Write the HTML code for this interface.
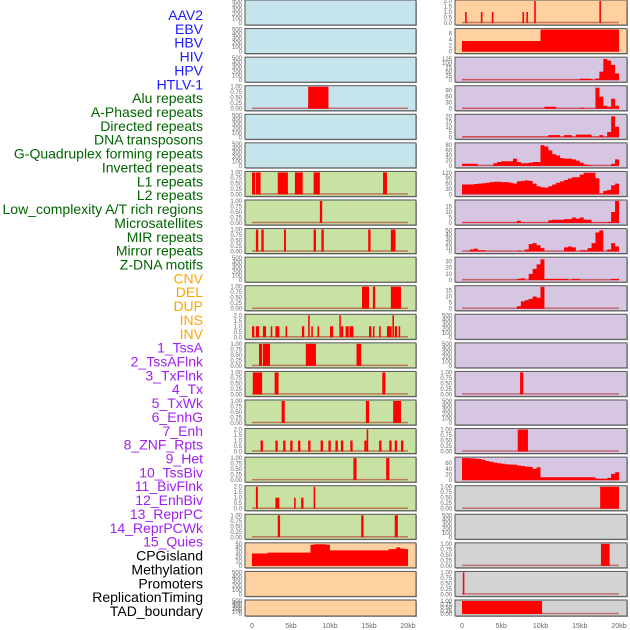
<!DOCTYPE html>
<html><head><meta charset="utf-8"><style>
html,body{margin:0;padding:0;background:#fff;}
svg{display:block;font-family:"Liberation Sans",sans-serif;}
</style></head><body>
<svg id="chart" width="630" height="630" viewBox="0 0 630 630"></svg>
<script>
// ---------- data ----------
const trackLabels = ["AAV2","EBV","HBV","HIV","HPV","HTLV-1","Alu repeats","A-Phased repeats","Directed repeats","DNA transposons","G-Quadruplex forming repeats","Inverted repeats","L1 repeats","L2 repeats","Low_complexity A/T rich regions","Microsatellites","MIR repeats","Mirror repeats","Z-DNA motifs","CNV","DEL","DUP","INS","INV","1_TssA","2_TssAFlnk","3_TxFlnk","4_Tx","5_TxWk","6_EnhG","7_Enh","8_ZNF_Rpts","9_Het","10_TssBiv","11_BivFlnk","12_EnhBiv","13_ReprPC","14_ReprPCWk","15_Quies","CPGisland","Methylation","Promoters","ReplicationTiming","TAD_boundary"];
const labelColors = ["#1a1aff","#1a1aff","#1a1aff","#1a1aff","#1a1aff","#1a1aff","#006400","#006400","#006400","#006400","#006400","#006400","#006400","#006400","#006400","#006400","#006400","#006400","#006400","#ffa500","#ffa500","#ffa500","#ffa500","#ffa500","#a020f0","#a020f0","#a020f0","#a020f0","#a020f0","#a020f0","#a020f0","#a020f0","#a020f0","#a020f0","#a020f0","#a020f0","#a020f0","#a020f0","#a020f0","#000","#000","#000","#000","#000"];
const xTicks = [0,5,10,15,20];
const xTickLabels = ["0","5kb","10kb","15kb","20kb"];
const t500 = [0,100,200,300,400,500];
const t1 = [0,0.25,0.5,0.75,1];
const t2 = [0,0.5,1,1.5,2];

const leftBg = ["#c6e4ec","#c6e4ec","#c6e4ec","#c6e4ec","#c6e4ec","#c6e4ec","#c8e2a4","#c8e2a4","#c8e2a4","#c8e2a4","#c8e2a4","#c8e2a4","#c8e2a4","#c8e2a4","#c8e2a4","#c8e2a4","#c8e2a4","#c8e2a4","#c8e2a4","#ffd1a0","#ffd1a0","#ffd1a0"];
const rightBg = ["#ffd1a0","#ffd1a0","#d6c6e2","#d6c6e2","#d6c6e2","#d6c6e2","#d6c6e2","#d6c6e2","#d6c6e2","#d6c6e2","#d6c6e2","#d6c6e2","#d6c6e2","#d6c6e2","#d6c6e2","#d6c6e2","#d6c6e2","#d3d3d3","#d3d3d3","#d3d3d3","#d3d3d3","#d3d3d3"];
const leftMax = [500,500,500,1,500,500,1,1,1,500,1,2,1,1,1,2,1,2,1,50,500,500];
const rightMax = [2,7.3,130,110,21,85,122,20,52,35,18,500,500,1,500,1,78,1,500,1,1,1];
const leftTicks = [t500,t500,t500,t1,t500,t500,t1,t1,t1,t500,t1,t2,t1,t1,t1,t2,t1,t2,t1,[0,10,20,30,40,50],t500,t500];
const rightTicks = [t2,[0,2,4,6],[0,25,50,75,100,125],[0,30,60,90],[0,5,10,15,20],[0,20,40,60,80],[0,30,60,90,120],[0,5,10,15],[0,10,20,30,40,50],[0,10,20,30],[0,5,10,15],t500,t500,t1,t500,t1,[0,20,40,60],t1,t500,t1,t1,t1];

// interval bars [startKb, endKb, value]
const leftBars = [
 [],[],[],
 [[7.2,9.8,1]],
 [],[],
 [[0,0.4,1],[0.5,1.1,1],[3.3,4.6,1],[5.5,6.5,1],[7.9,8.7,1],[16.8,17.3,1]],
 [[8.7,9.0,1]],
 [[0.5,0.8,1],[1.2,1.5,1],[4.1,4.35,1],[7.9,8.2,1],[8.9,9.2,1],[14.9,15.2,1],[17.8,18.4,1]],
 [],
 [[14.1,15.0,1],[15.5,15.8,1],[17.8,19.1,1]],
 [[0,0.3,1],[0.5,0.9,1],[1.4,1.8,1],[2.4,2.6,1],[3.0,3.5,1],[4.3,4.5,1],[6.4,6.7,1],[7.2,7.4,2],[7.6,7.8,1],[8.4,8.6,1],[10.0,10.4,1],[11.2,11.3,2],[11.4,11.7,1],[12.0,12.4,1],[12.5,13.0,1],[15.0,15.3,1],[15.5,15.7,1],[16.3,16.5,1],[17.3,17.9,1],[18.0,18.2,2],[18.3,18.6,1],[18.8,19.0,1]],
 [[0.9,1.3,1],[1.4,2.3,1],[6.9,8.2,1],[13.4,14.0,1]],
 [[0.1,1.3,1],[2.9,3.4,1],[16.7,17.1,1]],
 [[3.8,4.2,1],[14.6,15.0,1],[18.1,19.1,1]],
 [[1.1,1.4,1],[3.0,3.3,1],[4.0,4.3,1],[4.9,5.2,1],[5.9,6.2,1],[7.2,7.5,1],[8.8,9.1,1],[9.8,10.1,1],[10.7,11.0,1],[11.4,11.7,1],[12.6,12.9,1],[14.4,14.7,1],[14.7,14.9,2],[16.3,16.6,1],[17.6,17.9,1],[18.3,18.6,1],[19.1,19.4,1]],
 [[13.0,13.4,1],[17.2,17.6,1]],
 [[0.5,0.75,2],[3.0,3.5,1],[5.4,5.6,1],[6.3,6.6,1],[7.9,8.1,2]],
 [[3.3,3.6,1],[14.0,14.3,1],[18.3,18.7,1]],
 [],[],[]
];
const rightBars = [
 [[0.4,0.6,1],[2.4,2.6,1],[3.8,4.0,1],[7.7,7.9,1],[8.2,8.4,1],[9.2,9.4,2],[17.5,17.7,2]],
 [[0,10,3.5],[10,20,7.3]],
 [],[],[],[],[],[],[],[],[],
 [],[],
 [[7.4,7.8,1]],
 [],
 [[7.1,8.4,1]],
 [],
 [[17.6,20,1]],
 [],
 [[17.7,18.8,1]],
 [[0.1,0.3,1]],
 [[0,10.2,1]]
];
// 40-bin profiles (0.5 kb bins)
const leftProfile19 = [28,28,28,28,30,30,30,30,30,30,30,30,30,30,30,48,49,49,49,48,35,35,35,35,35,35,35,35,35,35,35,35,35,35,35,38,38,42,39,38];
const rightProfile2 = [2,2,2,2,2,2,2,2,2,2,2,2,2,2,2,2,2,2,2,2,2,2,2,2,2,2,2,2,2,2,8,8,8,2,10,50,125,115,90,40];
const rightProfile3 = [1,1,1,1,1,1,1,1,1,1,1,1,1,1,1,1,1,1,1,1,1,10,10,10,1,1,1,1,1,1,5,1,1,1,105,60,15,10,50,15];
const rightProfile4 = [0.5,0.5,0.5,0.5,0.5,0.5,0.5,0.5,0.5,0.5,0.5,0.5,0.5,0.5,2,0.5,0.5,0.5,0.5,0.5,0.5,0.5,2.5,3,3,3,3.5,3.5,5,4,5,3,3,0.5,0.5,0.5,0.5,1,10,20];
const rightProfile5 = [8,8,8,8,0.5,0.5,0.5,0.5,10,15,18,18,18,28,15,10,10,12,15,15,80,75,60,45,40,30,28,28,25,20,12,5,3,0.5,0.5,0.5,0.5,0.5,8,25];
const rightProfile6 = [55,55,55,58,60,62,65,68,70,70,68,68,65,60,72,75,78,75,60,45,40,38,45,55,65,72,80,88,95,95,110,120,120,120,90,5,20,25,50,60];
const rightProfile7 = rightProfile4;
const rightProfile8 = [0.5,0.5,5,7,3,3,0.5,0.5,0.5,0.5,0.5,0.5,0.5,0.5,2,0.5,5,18,20,15,8,0.5,0.5,0.5,0.5,0.5,10,12,10,0.5,3,3,8,20,45,50,0.5,5,20,12];
const rightProfile9 = [0.5,0.5,0.5,0.5,0.5,0.5,0.5,0.5,0.5,0.5,0.5,0.5,0.5,0.5,2,3,0.5,10,18,25,33,2,2,2,2,2,2,0.5,2,2,0.5,0.5,0.5,0.5,0.5,0.5,0.5,0.5,2,2];
const rightProfile10 = [0,0,0,0,0,0,0,0,0,0,0,0,0,0,2,6,7,8,10,9,18,0,0,0,0,0,0,0,0,0,0,0,0,0,0,0,0,0,0,0];
const rightProfile16 = [78,78,77,76,75,72,68,65,62,60,58,56,55,55,52,50,48,47,40,45,10,10,10,10,10,10,10,10,10,10,10,10,10,10,5,5,5,8,22,28];
const rightProfile4b = [0.5,0.5,0.5,0.5,0.5,0.5,0.5,0.5,0.5,0.5,0.5,0.5,0.5,0.5,0.5,0.5,0.5,0.5,0.5,0.5,0.5,0.5,2,2,2,0.5,2,2,0.5,2.5,2.5,2.5,2.5,0.5,0.5,2,0.5,5,20,10];
const leftProfiles = {19:leftProfile19};
const rightProfiles = {2:rightProfile2,3:rightProfile3,4:rightProfile4b,5:rightProfile5,6:rightProfile6,7:rightProfile7,8:rightProfile8,9:rightProfile9,10:rightProfile10,16:rightProfile16};

// ---------- drawing ----------
const NS = "http://www.w3.org/2000/svg";
const svg = document.getElementById("chart");
function mk(tag, attrs, parent){
  const e = document.createElementNS(NS, tag);
  for (const k in attrs) e.setAttribute(k, attrs[k]);
  (parent||svg).appendChild(e);
  return e;
}
function rowTop(i){ return i < 21 ? i*28.57 : 600; }
function rowH(i){ return i < 21 ? 25 : 16; }
function fmt(t, ticks){
  const mx = ticks[ticks.length-1];
  if (mx === 1) return t.toFixed(2);
  if (mx === 2) return t.toFixed(1);
  return String(t);
}

// labels
trackLabels.forEach((lab, i) => {
  const t = mk("text", {x:203, y:15 + i*13.86 + 5, "text-anchor":"end", "font-size":"14", fill:labelColors[i]});
  
  
  t.textContent = lab;
});

function drawColumn(px, pw, bgs, maxes, ticks, bars, profiles, side){
  const x0 = px + 7, x1 = px + pw - 8;
  const xs = kb => x0 + kb/20*(x1-x0);
  for (let i = 0; i < 22; i++){
    const top = rowTop(i), h = rowH(i);
    const g = mk("g", {});
    
    
    mk("rect", {x:px+1, y:top+1, width:pw, height:h, fill:"#aaa"}, g);
    mk("rect", {x:px, y:top, width:pw, height:h, fill:bgs[i], stroke:"#555", "stroke-width":1}, g);
    const yb = top + h - 2, yt = top + 1;
    const ys = v => yb - v/maxes[i]*(yb-yt);
    // ticks
    const tk = ticks[i];
    tk.forEach(t => {
      const tt = mk("text", {x:px-3, y:ys(t)+2, "text-anchor":"end", "font-size":"6", fill:"#666"}, g);
      
      
      tt.textContent = fmt(t, tk);
    });
    const hasData = bars[i].length > 0 || profiles[i];
    if (hasData){
      const bl = mk("line", {x1:xs(0), x2:xs(20), y1:yb-0.5, y2:yb-0.5, stroke:"#b03030", "stroke-opacity":0.6, "stroke-width":1.5}, g);
      
      
    }
    bars[i].forEach(b => {
      const r = mk("rect", {x:xs(b[0]), y:ys(b[2]), width:Math.max(1.5, xs(b[1])-xs(b[0])), height:yb-ys(b[2]), fill:"#ff0000"}, g);
      
      
    });
    if (profiles[i]){
      const p = profiles[i];
      let d = "M" + xs(0) + "," + yb;
      p.forEach((v, k) => {
        const vv = Math.min(v, maxes[i]);
        d += " L" + xs(k*0.5) + "," + ys(vv) + " L" + xs((k+1)*0.5) + "," + ys(vv);
      });
      d += " L" + xs(20) + "," + yb + " Z";
      const pa = mk("path", {d:d, fill:"#ff0000"}, g);
      
      
    }
  }
  xTicks.forEach((t, k) => {
    const tx = mk("text", {x:xs(t), y:628, "text-anchor":"middle", "font-size":"7", fill:"#666"});
    
    
    tx.textContent = xTickLabels[k];
  });
}
drawColumn(245, 171, leftBg, leftMax, leftTicks, leftBars, leftProfiles, "left");
drawColumn(455, 172, rightBg, rightMax, rightTicks, rightBars, rightProfiles, "right");
</script>
</body></html>
